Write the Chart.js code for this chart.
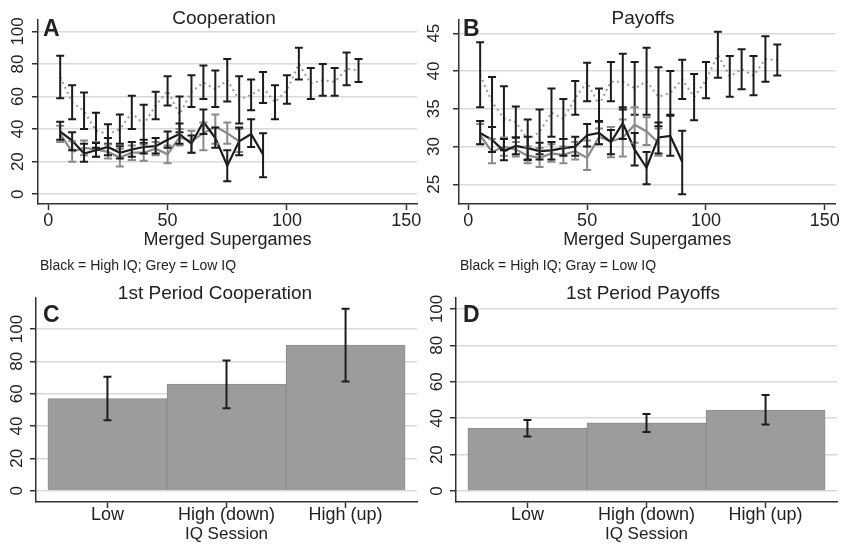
<!DOCTYPE html>
<html>
<head>
<meta charset="utf-8">
<script src="https://cdn.jsdelivr.net/npm/chart.js@4.4.1/dist/chart.umd.min.js"></script>
<style>
  html, body { margin: 0; padding: 0; background: #fff; }
  #wrap { position: relative; width: 842px; height: 547px; }
  #wrap canvas { position: absolute; left: 0; top: 0; }
</style>
</head>
<body>
<div id="wrap">
  <canvas id="chartA" width="842" height="547"></canvas>
  <canvas id="chartB" width="842" height="547"></canvas>
  <canvas id="chartC" width="842" height="547"></canvas>
  <canvas id="chartD" width="842" height="547"></canvas>
</div>
<script>
// Data
const supergames = [5, 10, 15, 20, 25, 30, 35, 40, 45, 50, 55, 60, 65, 70, 75, 80, 85, 90, 95, 100, 105, 110, 115, 120, 125, 130];
const supergamesHigh = supergames.slice(0, 18);
const supergamesLow = supergames.slice(0, 16);
const supergameTicks = [0, 50, 100, 150];

// Panel A - cooperation (%)
const coopAll = [72, 56.5, 51, 39, 37, 40, 50, 43, 54.5, 63.5, 49, 63, 68.5, 64.5, 70, 58, 61, 65.5, 56.5, 64, 80, 68, 70, 69, 77, 76];
const coopAllLo = [59, 46, 40, 28.5, 31, 31, 40, 31.5, 46, 54.5, 38, 53.5, 58.5, 53.5, 57, 43.5, 51.5, 56, 46, 55.5, 70.5, 58.5, 60.5, 60.5, 67, 69];
const coopAllHi = [85, 67, 62.5, 50, 43, 49, 60.5, 55, 63, 72.5, 60, 73, 79, 76, 83, 72.5, 70.5, 75, 67, 73, 90, 77.5, 80, 77.5, 87, 83];
const coopHigh = [38.5, 33, 25, 27, 29, 25.5, 27.5, 29, 29.5, 33.5, 37, 31, 44.5, 34.5, 17.5, 32.5, 37, 24.5];
const coopHighLo = [33.5, 27, 20, 23, 24, 22, 23, 25, 25, 28.5, 31, 25.5, 37, 28.5, 8, 24, 29, 10.5];
const coopHighHi = [44.5, 38, 31, 31.5, 34.5, 29.5, 32, 33.5, 34.5, 38.5, 43.5, 36, 52, 41, 27, 41, 46, 37.5];
const coopLow = [37, 26, 28.5, 27.5, 26, 22.5, 25.5, 25.5, 28, 24.5, 35, 32.5, 37.5, 41.5, 37.5, 32.5];
const coopLowLo = [32, 20, 24, 23, 22, 17, 21, 20.5, 24, 19, 30, 25.5, 27, 31, 31, 26];
const coopLowHi = [42, 32.5, 33, 32, 30.5, 28, 30, 30.5, 32, 30, 40, 39, 44, 49, 44, 40];
const coopTicks = [0, 20, 40, 60, 80, 100];

// Panel B - payoffs
const payAll = [39.5, 35.9, 33.75, 33.25, 30.9, 31.95, 34.5, 33.65, 36.45, 38.55, 35.5, 38.6, 38.6, 37.7, 38.65, 36.6, 37.1, 38.9, 36.55, 38.8, 42.15, 39.3, 40.25, 39.4, 41.6, 41.45];
const payAllLo = [35.2, 32.6, 29.5, 31.2, 28.2, 29, 31.3, 31, 34.2, 36, 33.3, 36, 34.9, 34.2, 34.2, 32.7, 34.2, 36.3, 33.5, 36.4, 39.1, 36.6, 37.6, 36.8, 38.6, 39.4];
const payAllHi = [43.8, 39.2, 38, 35.3, 33.6, 34.9, 37.7, 36.3, 38.7, 41.1, 37.7, 41.2, 42.3, 41.2, 43.1, 40.5, 40, 41.5, 39.6, 41.2, 45.2, 42, 42.9, 42, 44.6, 43.5];
const payHigh = [31.8, 30.9, 29.4, 30.1, 29.8, 29.4, 29.5, 29.8, 30, 31.5, 31.8, 30.6, 33.1, 29.6, 27.2, 31.2, 31.4, 28];
const payHighLo = [30.3, 29.3, 28.2, 29, 28.3, 28.3, 28.3, 28.8, 28.8, 30, 30.3, 29, 31, 27.5, 25, 29.1, 28.8, 23.7];
const payHighHi = [33.4, 32.6, 31, 31.2, 31.3, 30.5, 30.6, 31, 31.3, 33, 33.4, 32.2, 35.2, 31.8, 29.3, 33.2, 34.1, 32.1];
const payLow = [31.5, 29.3, 30, 29.6, 28.8, 28.5, 29.1, 28.9, 29.4, 28.5, 31.3, 30.7, 31.2, 32.9, 32, 30.5];
const payLowLo = [30.3, 27.8, 28.8, 28.7, 27.8, 27.3, 28, 27.8, 28.3, 26.9, 30.3, 28.6, 28.7, 30.5, 30.2, 28.8];
const payLowHi = [33, 31, 31.2, 30.6, 30, 29.8, 30.3, 30, 30.6, 30.8, 32.4, 32.6, 33.6, 35.2, 33.9, 32.4];
const payTicks = [25, 30, 35, 40, 45];

// Panels C, D - first period by IQ session
const sessions = ['Low', 'High (down)', 'High (up)'];
const sessionPos = [1, 2, 3];
const firstCoop = [57, 66, 90];
const firstCoopLo = [43.5, 51, 67.5];
const firstCoopHi = [70.5, 80.5, 112.5];
const firstPay = [34.5, 37.5, 44.5];
const firstPayLo = [30, 32.5, 36.5];
const firstPayHi = [39, 42.3, 52.7];
const barTicks = [0, 20, 40, 60, 80, 100];

// Styles
const FONT = '"Liberation Sans", Arial, Helvetica, sans-serif';
const INK = '#222';
const AXIS = '#333';
const GRID = '#d9d9d9';
const BLACK = '#1c1c1c';
const GREY = '#8a8a8a';

Chart.defaults.font.family = FONT;
Chart.defaults.color = INK;
Chart.defaults.animation = false;

function pts(xs, ys) {
  return ys.map((y, i) => ({ x: xs[i], y }));
}

function yAxis(min, max, ticks, width, pad) {
  return {
    min, max,
    afterBuildTicks: s => { s.ticks = ticks.map(v => ({ value: v })); },
    afterFit: s => { s.width = width; },
    grid: { color: GRID, lineWidth: 1.5, tickColor: AXIS, tickLength: 6, tickWidth: 1.5 },
    border: { color: AXIS, width: 1.5 },
    ticks: { minRotation: 90, maxRotation: 90, crossAlign: 'center', padding: pad, autoSkip: false, font: { size: 17 }, color: INK }
  };
}

function xAxis(min, max, ticks, height, pad, title, titleSize, labels) {
  return {
    type: 'linear', min, max, offset: false,
    afterBuildTicks: s => { s.ticks = ticks.map(v => ({ value: v })); },
    afterFit: s => { s.height = height; },
    grid: { drawOnChartArea: false, offset: false, tickColor: AXIS, tickLength: 6, tickWidth: 1.5 },
    border: { color: AXIS, width: 1.5 },
    ticks: {
      padding: pad, autoSkip: false, maxRotation: 0, font: { size: 18, lineHeight: 1 }, color: INK,
      callback: labels ? (v => labels[v - 1]) : (v => String(v))
    },
    title: { display: true, text: title, font: { size: titleSize }, color: INK, padding: 0 }
  };
}

function lineSeries(xs, ys, lo, hi, color, errColor, dash) {
  return {
    data: pts(xs, ys),
    borderColor: color,
    borderWidth: dash ? 2 : 2.2,
    borderDash: dash || [],
    pointRadius: 0,
    tension: 0,
    fill: false,
    errLo: lo, errHi: hi, errColor
  };
}

// draws confidence intervals with caps through the chart's y scale
const errorBars = {
  id: 'errorBars',
  afterDatasetsDraw(chart) {
    const ctx = chart.ctx;
    const yScale = chart.scales.y;
    ctx.save();
    for (let di = chart.data.datasets.length - 1; di >= 0; di--) {
      const ds = chart.data.datasets[di];
      if (!ds.errLo) continue;
      const meta = chart.getDatasetMeta(di);
      ctx.strokeStyle = ds.errColor;
      ctx.lineWidth = 2;
      meta.data.forEach((el, i) => {
        const x = el.x;
        const y1 = yScale.getPixelForValue(ds.errLo[i]);
        const y2 = yScale.getPixelForValue(ds.errHi[i]);
        ctx.beginPath();
        ctx.moveTo(x, y1); ctx.lineTo(x, y2);
        ctx.moveTo(x - 4, y1); ctx.lineTo(x + 4, y1);
        ctx.moveTo(x - 4, y2); ctx.lineTo(x + 4, y2);
        ctx.stroke();
      });
    }
    ctx.restore();
  }
};

// titles, panel letters and notes
function panelText(items) {
  return {
    id: 'panelText',
    afterDraw(chart) {
      const ctx = chart.ctx;
      ctx.save();
      ctx.fillStyle = INK;
      ctx.textBaseline = 'middle';
      items.forEach(t => {
        ctx.font = t.font;
        ctx.textAlign = t.align || 'left';
        ctx.fillText(t.text, t.x, t.y);
      });
      ctx.restore();
    }
  };
}

function baseOptions(padding, scales) {
  return {
    responsive: false,
    animation: false,
    layout: { padding },
    plugins: { legend: { display: false }, tooltip: { enabled: false } },
    scales
  };
}

// Panel A
new Chart(document.getElementById('chartA'), {
  type: 'line',
  data: {
    datasets: [
      lineSeries(supergamesHigh, coopHigh, coopHighLo, coopHighHi, BLACK, BLACK),
      lineSeries(supergamesLow, coopLow, coopLowLo, coopLowHi, GREY, GREY),
      lineSeries(supergames, coopAll, coopAllLo, coopAllHi, '#9a9a9a', BLACK, [2, 3.5])
    ]
  },
  options: baseOptions({ left: 0, right: 425, top: 20, bottom: 296.2 }, {
    x: xAxis(-4.3, 154.5, supergameTicks, 46.8, 2, 'Merged Supergames', 18),
    y: yAxis(-6, 107, coopTicks, 38, 0)
  }),
  plugins: [errorBars, panelText([
    { text: 'Cooperation', x: 224, y: 19, align: 'center', font: '19px ' + FONT },
    { text: 'A', x: 43, y: 30, font: 'bold 23px ' + FONT },
    { text: 'Black = High IQ; Grey = Low IQ', x: 40, y: 266, font: '14px ' + FONT }
  ])]
});

// Panel B
new Chart(document.getElementById('chartB'), {
  type: 'line',
  data: {
    datasets: [
      lineSeries(supergamesHigh, payHigh, payHighLo, payHighHi, BLACK, BLACK),
      lineSeries(supergamesLow, payLow, payLowLo, payLowHi, GREY, GREY),
      lineSeries(supergames, payAll, payAllLo, payAllHi, '#9a9a9a', BLACK, [2, 3.5])
    ]
  },
  options: baseOptions({ left: 419, right: 5, top: 20, bottom: 296.2 }, {
    x: xAxis(-3.9, 154.5, supergameTicks, 46.8, 2, 'Merged Supergames', 18),
    y: yAxis(22.4, 46.76, payTicks, 40, 9.5)
  }),
  plugins: [errorBars, panelText([
    { text: 'Payoffs', x: 643, y: 19, align: 'center', font: '19px ' + FONT },
    { text: 'B', x: 463, y: 30, font: 'bold 23px ' + FONT },
    { text: 'Black = High IQ; Gray = Low IQ', x: 460, y: 266, font: '14px ' + FONT }
  ])]
});

function barSeries(vals, lo, hi) {
  return {
    data: pts(sessionPos, vals),
    backgroundColor: '#9c9c9c',
    borderColor: '#8c8c8c',
    borderWidth: 1,
    barPercentage: 1,
    categoryPercentage: 1,
    errLo: lo, errHi: hi, errColor: BLACK
  };
}

// Panel C
new Chart(document.getElementById('chartC'), {
  type: 'bar',
  data: { datasets: [barSeries(firstCoop, firstCoopLo, firstCoopHi)] },
  options: baseOptions({ left: 0, right: 425, top: 298, bottom: 2.8 }, {
    x: xAxis(0.4, 3.6, sessionPos, 42.2, -2, 'IQ Session', 17, sessions),
    y: yAxis(-7, 119.2, barTicks, 36, -1)
  }),
  plugins: [errorBars, panelText([
    { text: '1st Period Cooperation', x: 215, y: 294, align: 'center', font: '19px ' + FONT },
    { text: 'C', x: 43, y: 316, font: 'bold 23px ' + FONT }
  ])]
});

// Panel D
new Chart(document.getElementById('chartD'), {
  type: 'bar',
  data: { datasets: [barSeries(firstPay, firstPayLo, firstPayHi)] },
  options: baseOptions({ left: 416, right: 5, top: 298, bottom: 2.8 }, {
    x: xAxis(0.4, 3.6, sessionPos, 42.2, -2, 'IQ Session', 17, sessions),
    y: yAxis(-6, 106, barTicks, 40, -1)
  }),
  plugins: [errorBars, panelText([
    { text: '1st Period Payoffs', x: 643, y: 294, align: 'center', font: '19px ' + FONT },
    { text: 'D', x: 463, y: 316, font: 'bold 23px ' + FONT }
  ])]
});
</script>
</body>
</html>
